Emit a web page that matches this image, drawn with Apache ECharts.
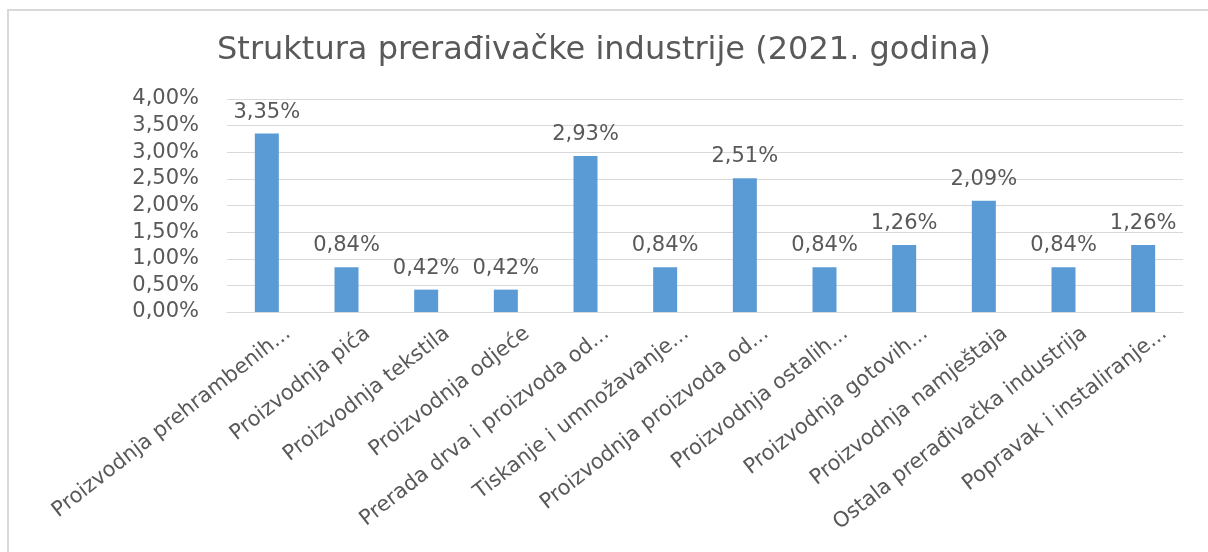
<!DOCTYPE html>
<html>
<head>
<meta charset="utf-8">
<script src="https://cdn.jsdelivr.net/npm/echarts@6/dist/echarts.min.js"></script>
<style>
  html, body { margin: 0; padding: 0; background: #fff; }
  #chart { width: 1208px; height: 552px; }
</style>
</head>
<body>
<div id="chart"></div>
<script>
// kategorije (skraćene kao na slici)
const categories = [
  'Proizvodnja prehrambenih...',
  'Proizvodnja pića',
  'Proizvodnja tekstila',
  'Proizvodnja odjeće',
  'Prerada drva i proizvoda od...',
  'Tiskanje i umnožavanje...',
  'Proizvodnja proizvoda od...',
  'Proizvodnja ostalih...',
  'Proizvodnja gotovih...',
  'Proizvodnja namještaja',
  'Ostala prerađivačka industrija',
  'Popravak i instaliranje...'
];
// udjeli u %
const shares = [3.35, 0.84, 0.42, 0.42, 2.93, 0.84, 2.51, 0.84, 1.26, 2.09, 0.84, 1.26];

const fontFamily = '"DejaVu Sans", sans-serif';
const grey = '#595959';

// 3.35 -> "3,35%"
const pct = v => v.toFixed(2).replace('.', ',') + '%';

const chart = echarts.init(document.getElementById('chart'));

chart.setOption({
  animation: false,
  textStyle: { fontFamily: fontFamily },
  title: {
    text: 'Struktura prerađivačke industrije (2021. godina)',
    left: 'center',
    top: 30,
    textStyle: { fontSize: 32, fontWeight: 'normal', color: grey, fontFamily: fontFamily }
  },
  graphic: [{
    type: 'rect',
    shape: { x: 8, y: 10, width: 1240, height: 600 },
    style: { fill: 'none', stroke: '#d9d9d9', lineWidth: 2 },
    silent: true
  }],
  grid: { left: 227, right: 25, top: 99, bottom: 240 },
  xAxis: {
    type: 'category',
    data: categories,
    axisTick: { show: false },
    axisLine: { lineStyle: { color: '#d9d9d9' } },
    axisLabel: {
      interval: 0,
      rotate: 38,
      verticalAlign: 'top',
      padding: [24, 0, 0, 0],
      margin: -8,
      fontSize: 21,
      color: grey,
      fontFamily: fontFamily
    }
  },
  yAxis: {
    type: 'value',
    min: 0,
    max: 4,
    interval: 0.5,
    axisLine: { show: false },
    axisTick: { show: false },
    splitLine: { lineStyle: { color: '#d9d9d9' } },
    axisLabel: {
      margin: 28,
      fontSize: 21,
      color: grey,
      fontFamily: fontFamily,
      formatter: v => pct(v)
    }
  },
  series: [{
    type: 'bar',
    data: shares,
    barWidth: 24,
    itemStyle: { color: '#5b9bd5' },
    label: {
      show: true,
      position: 'top',
      distance: 11,
      fontSize: 21,
      color: grey,
      fontFamily: fontFamily,
      formatter: p => pct(p.value)
    }
  }]
});
</script>
</body>
</html>
